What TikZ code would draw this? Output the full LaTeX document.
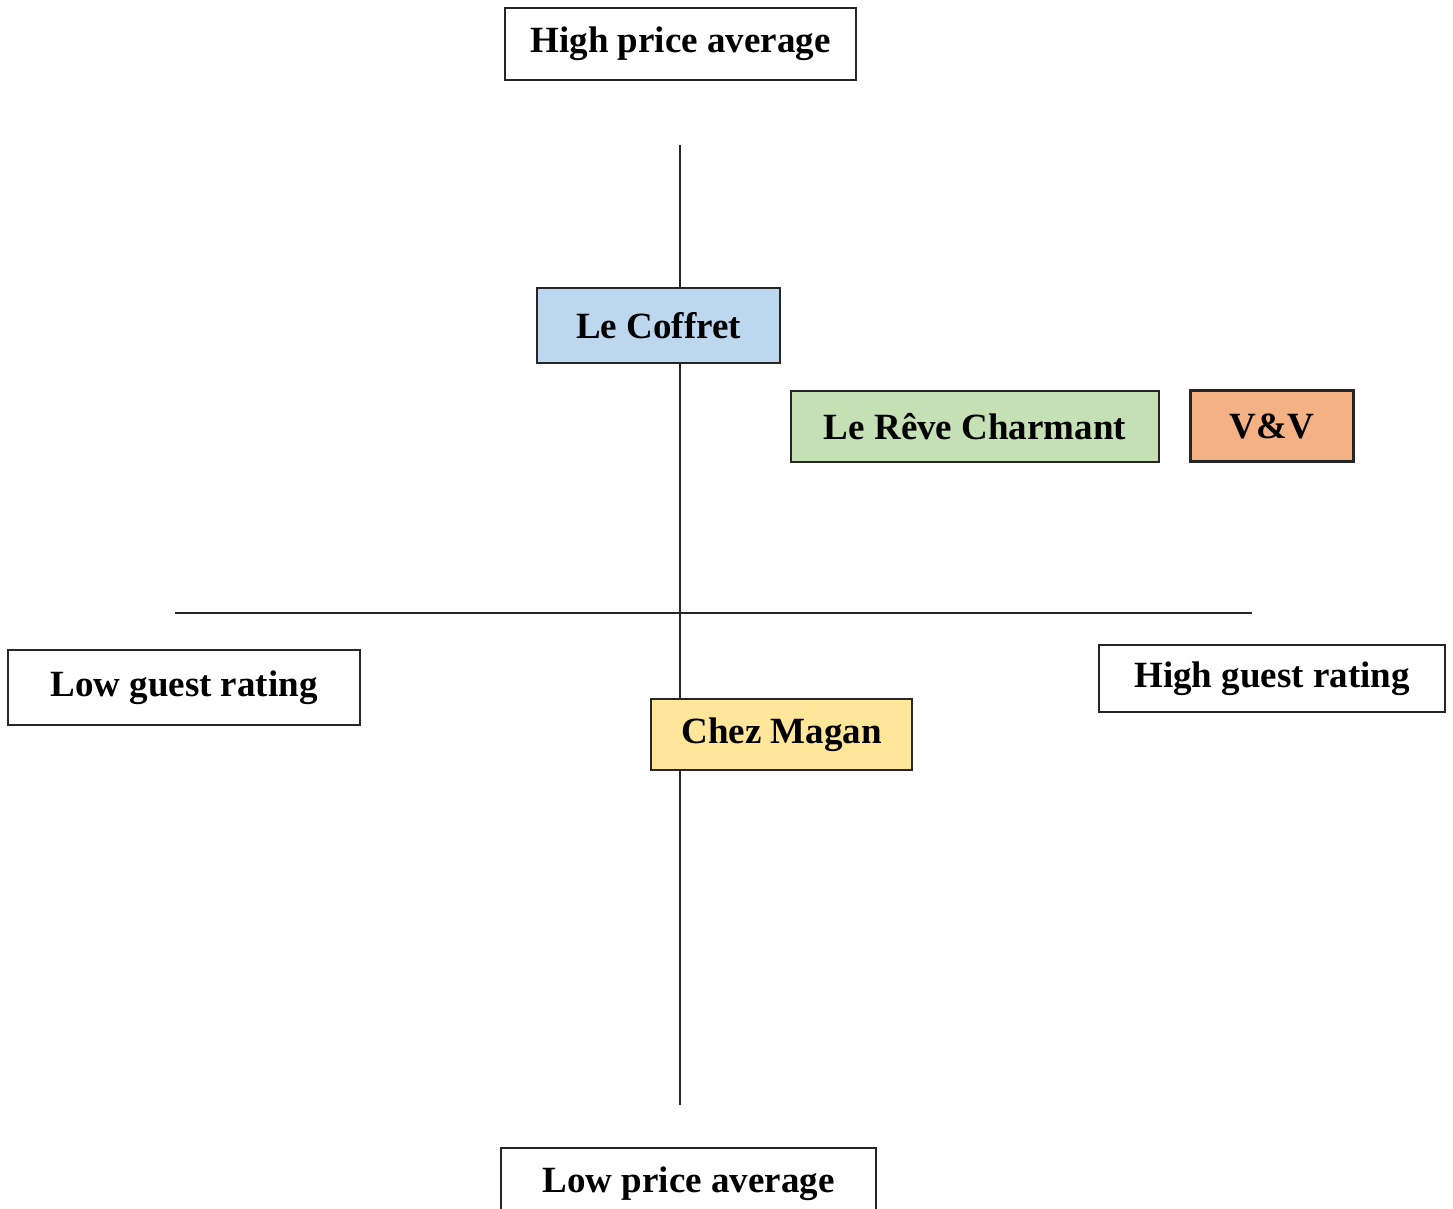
\documentclass[tikz,border=0pt]{standalone}
\usepackage{fontspec}
\setmainfont{Liberation Serif}
\definecolor{cblue}{HTML}{BDD7EE}
\definecolor{cgreen}{HTML}{C5E0B4}
\definecolor{corange}{HTML}{F4B183}
\definecolor{cyellow}{HTML}{FFE699}
\begin{document}
\begin{tikzpicture}[x=1pt,y=1pt,
  lbl/.style={draw=black!85, line width=1.1pt, inner sep=0pt, font=\fontsize{37}{40}\selectfont\bfseries, text=black},
  axis/.style={draw=black!85, line width=1.2pt}]
\useasboundingbox (0,0) rectangle (1453,-1209);
\coordinate (vtop) at (680,-145);
\coordinate (vbot) at (680,-1105);
\coordinate (hleft) at (175,-613);
\coordinate (hright) at (1252,-613);
\draw[axis] (vtop) -- (vbot);
\draw[axis] (hleft) -- (hright);
\node[lbl, fill=white, minimum width=351, minimum height=72] (hpa) at (680.5,-44) {High price average};
\node[lbl, fill=cblue, minimum width=243, minimum height=75] (coffret) at (658.5,-325.5) {Le Coffret};
\node[lbl, fill=cgreen, minimum width=368, minimum height=71] (reve) at (975,-426.5) {Le Rêve Charmant};
\node[lbl, fill=corange, line width=2.4pt, minimum width=163, minimum height=71] (vv) at (1272,-426) {V\&V};
\node[lbl, fill=white, minimum width=352, minimum height=75] (lgr) at (184,-687.5) {Low guest rating};
\node[lbl, fill=white, minimum width=346, minimum height=67] (hgr) at (1272,-678.5) {High guest rating};
\node[lbl, fill=cyellow, minimum width=261, minimum height=71] (chez) at (781.5,-734.5) {Chez Magan};
\node[lbl, fill=white, minimum width=375, minimum height=72] (lpa) at (688.5,-1184) {Low price average};
\end{tikzpicture}
\end{document}
